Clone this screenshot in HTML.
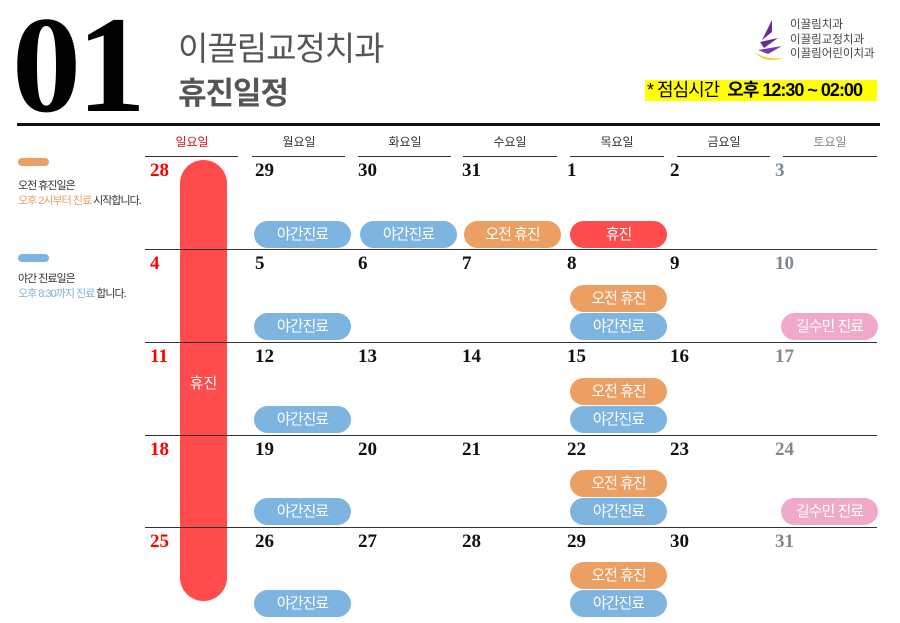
<!DOCTYPE html>
<html><head><meta charset="utf-8"><style>
body{margin:0;width:900px;height:623px;background:#fff;position:relative;overflow:hidden;font-family:"Liberation Sans","Noto Sans CJK KR",sans-serif}
.a{position:absolute}
.n{position:absolute;font-family:"Liberation Serif",serif;font-weight:bold;font-size:19px;line-height:20px;color:#111}
.r{color:#f00}.g{color:#7e8890}
.p{position:absolute;width:97px;height:27px;border-radius:14px;color:#fff;font-size:15px;line-height:27px;text-align:center;letter-spacing:-1px}
.o{background:#eb9f63}.b{background:#7db5e0}.k{background:#f0a9c8}.rd{background:#ff4b4b}
.hl{position:absolute;height:1px;background:#333}
.dh{position:absolute;top:133px;width:94px;text-align:center;font-size:12px;color:#333}
</style></head><body>
<div class="a" style="left:12px;top:-4px;font-family:'Liberation Serif',serif;font-weight:bold;font-size:138px;line-height:138px;color:#000;letter-spacing:-4px">01</div>
<div class="a" style="left:178px;top:22px;font-size:33px;color:#555;letter-spacing:-1px">이끌림교정치과</div>
<div class="a" style="left:178px;top:68px;font-size:31px;font-weight:bold;color:#555;letter-spacing:-1px">휴진일정</div>
<svg class="a" style="left:752px;top:18px" width="36" height="46"><path d="M20 2 L10 22 L20 14 Z" fill="#6a2a9a"/><path d="M8 24 L26 20 L12 30 Z" fill="#6a2a9a"/><path d="M6 32 L30 28 L16 36 Z" fill="#7a3aaa"/><path d="M2 34 Q14 46 32 40 Q14 42 2 34Z" fill="#e8d62a"/></svg>
<div class="a" style="left:790px;top:18px;font-size:11.5px;line-height:14.5px;color:#444">이끌림치과<br>이끌림교정치과<br>이끌림어린이치과</div>
<div class="a" style="left:645px;top:80px;width:232px;height:21px;background:#ffff00"></div>
<div class="a" style="left:647px;top:79px;font-size:18px;line-height:23px;color:#000;letter-spacing:-1px">* 점심시간 &nbsp;<b>오후 12:30 ~ 02:00</b></div>
<div class="a" style="left:17px;top:123px;width:863px;height:3px;background:#111"></div>

<div class="dh" style="left:145px;color:#e01010">일요일</div>
<div class="dh" style="left:252px">월요일</div>
<div class="dh" style="left:358px">화요일</div>
<div class="dh" style="left:463px">수요일</div>
<div class="dh" style="left:570px">목요일</div>
<div class="dh" style="left:677px">금요일</div>
<div class="dh" style="left:783px;color:#7e8890">토요일</div>
<div class="hl" style="top:156px;left:145px;width:93px"></div>
<div class="hl" style="top:156px;left:252px;width:93px"></div>
<div class="hl" style="top:156px;left:358px;width:93px"></div>
<div class="hl" style="top:156px;left:463px;width:94px"></div>
<div class="hl" style="top:156px;left:570px;width:94px"></div>
<div class="hl" style="top:156px;left:677px;width:93px"></div>
<div class="hl" style="top:156px;left:783px;width:94px"></div>

<div class="a" style="left:18px;top:158px;width:31px;height:8px;border-radius:4px;background:#eb9f63"></div>
<div class="a" style="left:18px;top:179px;font-size:11px;line-height:15px;color:#333;letter-spacing:-1px">오전 휴진일은<br><span style="color:#eb9f63">오후 2시부터 진료</span> 시작합니다.</div>
<div class="a" style="left:18px;top:254px;width:31px;height:8px;border-radius:4px;background:#7db5e0"></div>
<div class="a" style="left:18px;top:272px;font-size:11px;line-height:15px;color:#333;letter-spacing:-1px">야간 진료일은<br><span style="color:#7db5e0">오후 8:30까지 진료</span> 합니다.</div>

<div class="a" style="left:180px;top:160px;width:47px;height:441px;border-radius:24px;background:#ff4b4b"></div>
<div class="a" style="left:180px;top:372px;width:47px;text-align:center;color:#fff;font-size:15px">휴진</div>

<div class="hl" style="top:249px;left:145px;width:732px"></div>
<div class="hl" style="top:342px;left:145px;width:732px"></div>
<div class="hl" style="top:435px;left:145px;width:732px"></div>
<div class="hl" style="top:527px;left:145px;width:732px"></div>

<div class="n r" style="left:150px;top:161px">28</div><div class="n" style="left:255px;top:161px">29</div><div class="n" style="left:358px;top:161px">30</div><div class="n" style="left:462px;top:161px">31</div><div class="n" style="left:567px;top:161px">1</div><div class="n" style="left:670px;top:161px">2</div><div class="n g" style="left:775px;top:161px">3</div>
<div class="p b" style="left:254px;top:221px">야간진료</div><div class="p b" style="left:360px;top:221px">야간진료</div><div class="p o" style="left:464px;top:221px">오전 휴진</div><div class="p rd" style="left:570px;top:221px">휴진</div>

<div class="n r" style="left:150px;top:254px">4</div><div class="n" style="left:255px;top:254px">5</div><div class="n" style="left:358px;top:254px">6</div><div class="n" style="left:462px;top:254px">7</div><div class="n" style="left:567px;top:254px">8</div><div class="n" style="left:670px;top:254px">9</div><div class="n g" style="left:775px;top:254px">10</div>
<div class="p o" style="left:570px;top:285px">오전 휴진</div>
<div class="p b" style="left:254px;top:313px">야간진료</div><div class="p b" style="left:570px;top:313px">야간진료</div><div class="p k" style="left:781px;top:313px">길수민 진료</div>

<div class="n r" style="left:150px;top:347px">11</div><div class="n" style="left:255px;top:347px">12</div><div class="n" style="left:358px;top:347px">13</div><div class="n" style="left:462px;top:347px">14</div><div class="n" style="left:567px;top:347px">15</div><div class="n" style="left:670px;top:347px">16</div><div class="n g" style="left:775px;top:347px">17</div>
<div class="p o" style="left:570px;top:378px">오전 휴진</div>
<div class="p b" style="left:254px;top:406px">야간진료</div><div class="p b" style="left:570px;top:406px">야간진료</div>

<div class="n r" style="left:150px;top:440px">18</div><div class="n" style="left:255px;top:440px">19</div><div class="n" style="left:358px;top:440px">20</div><div class="n" style="left:462px;top:440px">21</div><div class="n" style="left:567px;top:440px">22</div><div class="n" style="left:670px;top:440px">23</div><div class="n g" style="left:775px;top:440px">24</div>
<div class="p o" style="left:570px;top:470px">오전 휴진</div>
<div class="p b" style="left:254px;top:498px">야간진료</div><div class="p b" style="left:570px;top:498px">야간진료</div><div class="p k" style="left:781px;top:498px">길수민 진료</div>

<div class="n r" style="left:150px;top:532px">25</div><div class="n" style="left:255px;top:532px">26</div><div class="n" style="left:358px;top:532px">27</div><div class="n" style="left:462px;top:532px">28</div><div class="n" style="left:567px;top:532px">29</div><div class="n" style="left:670px;top:532px">30</div><div class="n g" style="left:775px;top:532px">31</div>
<div class="p o" style="left:570px;top:562px">오전 휴진</div>
<div class="p b" style="left:254px;top:590px">야간진료</div><div class="p b" style="left:570px;top:590px">야간진료</div>
</body></html>
